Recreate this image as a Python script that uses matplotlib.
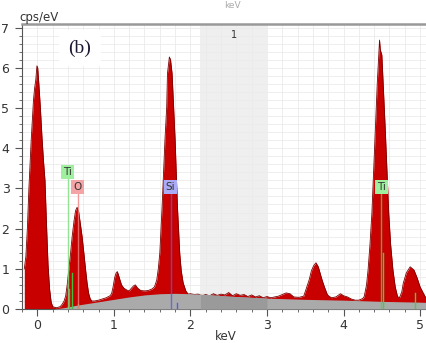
import numpy as np
import matplotlib
matplotlib.use("Agg")
import matplotlib.pyplot as plt

# EDS spectrum, counts per eV vs energy
energy = [-0.17, -0.15, -0.13, -0.11, -0.08, -0.05, -0.035, -0.02, -0.005, 0.005,
          0.02, 0.04, 0.06, 0.08, 0.10, 0.12, 0.14, 0.16, 0.18, 0.20,
          0.25, 0.30, 0.325, 0.35, 0.37, 0.39, 0.41, 0.435, 0.455, 0.48,
          0.50, 0.52, 0.54, 0.56, 0.585, 0.61, 0.63, 0.65, 0.67, 0.69,
          0.71, 0.75, 0.80, 0.85, 0.90, 0.95, 0.97, 0.99, 1.01, 1.03,
          1.045, 1.06, 1.08, 1.10, 1.13, 1.17, 1.20, 1.23, 1.26, 1.28,
          1.31, 1.35, 1.40, 1.45, 1.50, 1.53, 1.56, 1.58, 1.60, 1.63,
          1.667, 1.69, 1.70, 1.725, 1.74, 1.76, 1.78, 1.80, 1.83, 1.86,
          1.88, 1.905, 1.94, 1.97, 2.00, 2.05, 2.10, 2.15, 2.20, 2.25,
          2.30, 2.35, 2.40, 2.45, 2.50, 2.55, 2.60, 2.65, 2.70, 2.75,
          2.80, 2.85, 2.90, 2.95, 3.00, 3.05, 3.10, 3.15, 3.20, 3.25,
          3.30, 3.35, 3.42, 3.48, 3.52, 3.55, 3.58, 3.61, 3.64, 3.67,
          3.70, 3.72, 3.75, 3.79, 3.84, 3.90, 3.96, 4.00, 4.05, 4.10,
          4.15, 4.20, 4.25, 4.27, 4.30, 4.32, 4.345, 4.37, 4.39, 4.415,
          4.44, 4.47, 4.48, 4.50, 4.52, 4.545, 4.57, 4.59, 4.615, 4.645,
          4.675, 4.705, 4.73, 4.76, 4.78, 4.82, 4.87, 4.90, 4.92, 4.96,
          5.00, 5.035, 5.065, 5.10]
counts = [1.0, 1.3, 2.0, 3.0, 4.2, 5.2, 5.5, 5.7, 6.05, 6.0,
          5.6, 5.0, 4.3, 3.7, 3.2, 2.1, 1.1, 0.5, 0.18, 0.06,
          0.03, 0.06, 0.12, 0.2, 0.32, 0.6, 0.97, 1.4, 1.8, 2.2,
          2.45, 2.53, 2.42, 2.15, 1.8, 1.35, 0.97, 0.65, 0.39, 0.26,
          0.2, 0.2, 0.22, 0.25, 0.28, 0.33, 0.38, 0.55, 0.78, 0.9,
          0.93, 0.85, 0.72, 0.6, 0.52, 0.47, 0.45, 0.52, 0.58, 0.6,
          0.52, 0.46, 0.45, 0.46, 0.5, 0.55, 0.72, 1.0, 1.39, 2.55,
          4.2, 5.03, 5.86, 6.27, 6.2, 5.86, 5.03, 4.2, 2.55, 1.39,
          0.95, 0.65, 0.45, 0.37, 0.38, 0.36, 0.37, 0.33, 0.36, 0.33,
          0.38, 0.34, 0.37, 0.35, 0.41, 0.33, 0.38, 0.34, 0.36, 0.31,
          0.35, 0.30, 0.33, 0.28, 0.31, 0.28, 0.30, 0.32, 0.36, 0.40,
          0.38, 0.30, 0.29, 0.32, 0.55, 0.72, 0.95, 1.08, 1.15, 1.05,
          0.85, 0.72, 0.55, 0.35, 0.28, 0.30, 0.38, 0.33, 0.30, 0.25,
          0.22, 0.22, 0.26, 0.31, 0.60, 0.97, 1.6, 2.38, 3.3, 4.45,
          5.6, 6.69, 6.45, 6.32, 5.5, 4.45, 3.3, 2.38, 1.6, 0.97,
          0.55, 0.31, 0.28, 0.42, 0.64, 0.9, 1.05, 1.0, 0.97, 0.78,
          0.55, 0.42, 0.31, 0.22]

# bremsstrahlung background
bg_energy = [0.20, 0.30, 0.40, 0.50, 0.60, 0.70, 0.80, 0.90, 1.00, 1.20, 1.40,
             1.60, 1.80, 2.00, 2.20, 2.50, 3.00, 3.50, 4.00, 4.50, 5.00, 5.15]
bg_counts = [0.0, 0.02, 0.05, 0.09, 0.12, 0.15, 0.18, 0.21, 0.24, 0.30, 0.35,
             0.38, 0.39, 0.38, 0.36, 0.32, 0.27, 0.24, 0.22, 0.19, 0.17, 0.16]

# element markers: label, energy, label height, box colour, line colour
elements = [("Ti", 0.395, 3.41, "#9ef09e", "#7ee07e"),
            ("O", 0.525, 3.03, "#f4a4a4", "#f08080"),
            ("Si", 1.74, 3.03, "#aaaaf6", "#5a5ae0"),
            ("Ti", 4.49, 3.03, "#9ef09e", "#5ec85e")]
# short line markers: energy, height, colour
lines_e = [0.415, 0.45, 0.53, 1.83, 4.51, 4.93]
lines_h = [0.5, 0.9, 0.12, 0.15, 1.4, 0.4]
lines_c = ["#40c040", "#40c040", "#40c040", "#5a5ae0", "#40d040", "#40d040"]

roi = (2.13, 3.0)

fig = plt.figure(figsize=(4.27, 3.43), dpi=100)
ax = fig.add_axes([22/427, 1-309/343, 1-22/427, (309-24)/343])
ax.set_xlim(-0.17, 5.09)
ax.set_ylim(0, 7.09)

ax.axvspan(roi[0], roi[1], color="#efefef", zorder=0, lw=0)
ax.set_xticks(np.arange(-0.2, 5.2, 0.2), minor=True)
ax.set_yticks(np.arange(0, 7.01, 0.2), minor=True)
ax.grid(which="both", color="#ebebeb", lw=0.6, zorder=0.5)
ax.set_axisbelow(True)

ax.fill_between(energy, counts, color="#c80000", lw=0, zorder=2)
ax.plot(energy, counts, color="#7a0000", lw=0.6, zorder=2.1)
ax.fill_between(bg_energy, bg_counts, color="#aaaaaa", lw=0, zorder=3)
roi_x = np.linspace(*roi, 30)
ax.fill_between(roi_x, np.interp(roi_x, bg_energy, bg_counts), color="#9a9a9a", lw=0, zorder=3.1)

for e, h, c in zip(lines_e, lines_h, lines_c):
    ax.plot([e, e], [0, h], color=c, lw=1, zorder=4)
for name, e, y, fc, lc in elements:
    ax.plot([e, e], [0, y - 0.18], color=lc, lw=1, alpha=0.8, zorder=4)
    ax.text(e, y, name, ha="center", va="center", fontsize=7.5, color="#333333", zorder=5,
            bbox=dict(boxstyle="square,pad=0.2", fc=fc, ec="none"))

ax.text((roi[0] + roi[1]) / 2, 6.95, "1", ha="center", va="top", fontsize=7, color="#333333")

ax.set_xticks(range(0, 6))
ax.set_yticks(range(0, 8))
ax.tick_params(which="major", length=5, color="#555555", labelsize=9, labelcolor="#333333", pad=2)
ax.tick_params(axis="y", which="major", pad=4)
ax.tick_params(which="minor", length=2.5, color="#555555")
for s in ("left", "bottom"):
    ax.spines[s].set_color("#555555")
ax.spines["right"].set_visible(False)
ax.spines["top"].set_color("#999999")
ax.spines["top"].set_linewidth(1.8)

fig.text(39/427, 1-17/343, "cps/eV", ha="center", va="center", fontsize=8.5, color="#333333")
fig.text(226/427, 1-337/343, "keV", ha="center", va="center", fontsize=8.5, color="#333333")
fig.text(232/427, 1-6/343, "keV", ha="center", va="center", fontsize=6.5, color="#aaaaaa")

ax.text(0.143, 0.916, "(b)", transform=ax.transAxes, ha="center", va="center",
        fontsize=14, family="Liberation Serif", color="#1a1a33", zorder=6,
        bbox=dict(boxstyle="square,pad=0.5", fc="white", ec="none"))

fig.savefig("out.png", dpi=100)
